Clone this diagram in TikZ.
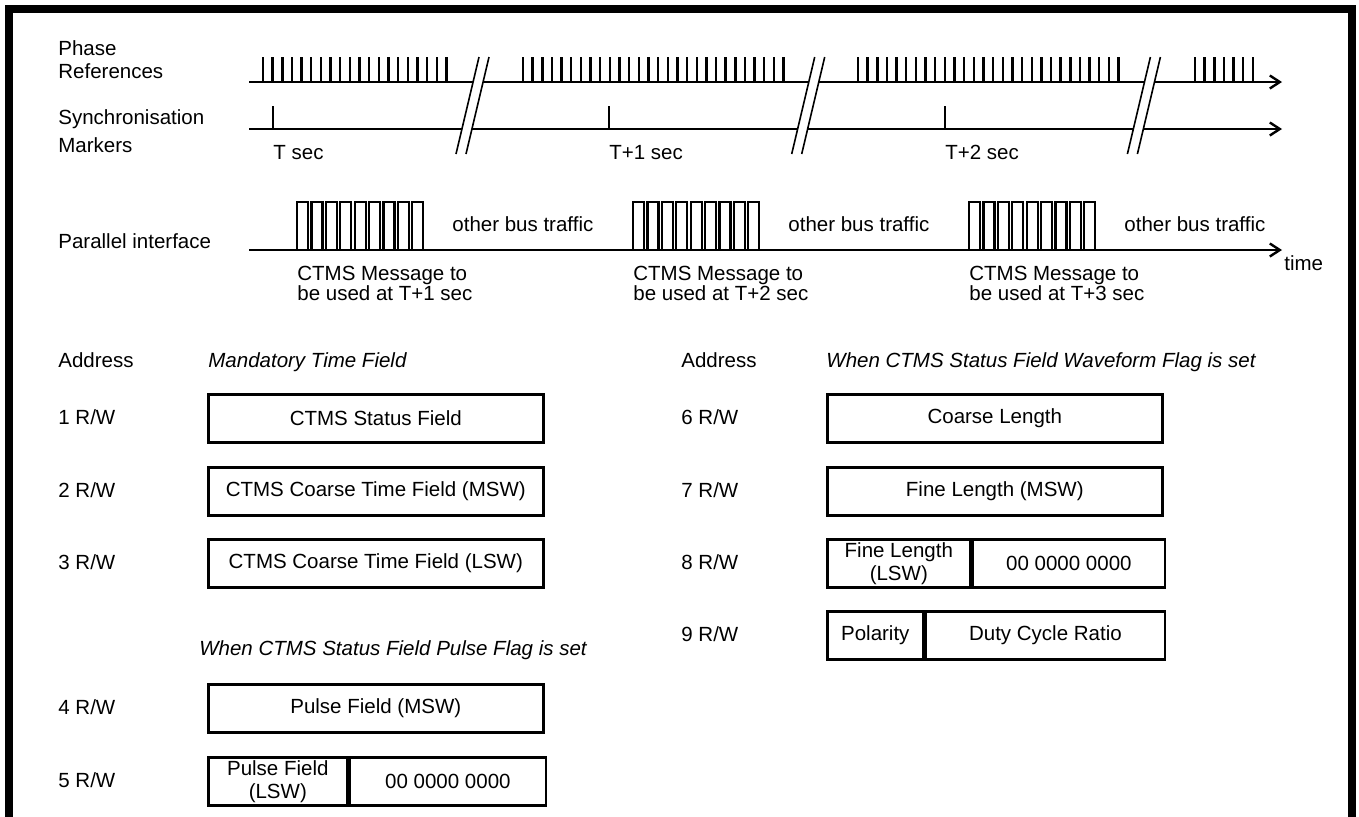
\documentclass[tikz,border=0pt]{standalone}
\usepackage{fontspec}
\setmainfont{Liberation Sans}
\usetikzlibrary{arrows.meta,positioning}

\begin{document}
\begin{tikzpicture}[x=0.5pt,y=-0.5pt,
  font=\fontsize{10.25}{11.5}\selectfont,
  lbl/.style={anchor=base west,inner sep=0pt},
  head/.style={lbl,font=\fontsize{10.25}{11.5}\selectfont\itshape},
  field/.style={draw,line width=1.3pt,minimum height=24pt,inner sep=0pt,
                align=center,anchor=north west},
  axis/.style={line width=1.2pt},
  arr/.style={axis,-{Straight Barb[length=5pt,width=6.5pt,line width=1.2pt]}},
  tick/.style={line width=1.2pt},
  pulse/.style={line width=1.1pt},
  brk/.style={line width=0.8pt}
]
  \useasboundingbox (0,0) rectangle (1359,816);
  \draw[line width=4pt,miter limit=4] (9,830) -- (9,9) -- (1352,9) -- (1352,830);

  % timing lines
  \node[lbl] (phA) at (58,55) {Phase};
  \node[lbl] (phB) at (58,78) {References};
  \node[lbl] (syA) at (58,124) {Synchronisation};
  \node[lbl] (syB) at (58,152) {Markers};
  \node[lbl] (par) at (58,248) {Parallel interface};

  \coordinate (ph0) at (249,82);  \coordinate (ph1) at (1282,82);
  \coordinate (sy0) at (249,129); \coordinate (sy1) at (1282,129);
  \coordinate (pa0) at (249,250); \coordinate (pa1) at (1282,250);
  \draw[arr] (ph0) -- (ph1);
  \draw[arr] (sy0) -- (sy1);
  \draw[arr] (pa0) -- (pa1);
  \node[lbl] (time) at (1284,270) {time};

  \foreach \s/\n in {263/20,523/28,858/28,1195/7}
    \foreach \i in {1,...,\n}
      \draw[tick] ({\s+(\i-1)*9.65},82) -- ++(0,-25);

  \foreach \t/\txt [count=\k] in {273/T sec,609/T+1 sec,945/T+2 sec}{
    \draw[tick] (\t,129) -- ++(0,-23);
    \node[lbl] (sec\k) at (\t,159) {\txt};
  }

  \foreach \bx in {456,791.7,1127.4}{
    \fill[white] (\bx,154) -- ++(23,-97) -- ++(10,0) -- ++(-23,97) -- cycle;
    \draw[brk] (\bx,154) -- ++(23,-97) (\bx+10,154) -- ++(23,-97);
  }

  \foreach \p/\m [count=\k] in {297/1,633/2,969/3}{
    \foreach \i in {0,...,8}
      \draw[pulse] ({\p+\i*14.4},250) -- ++(0,-48) -- ++(11,0) -- ++(0,48);
    \node[lbl] (bus\k) at (\p+155,231) {other bus traffic};
    \node[lbl] (msgA\k) at (\p,280) {CTMS Message to};
    \node[lbl] (msgB\k) at (\p,300) {be used at T+\m\ sec};
  }

  % register map, left
  \node[lbl] (adrL) at (58,367.5) {Address};
  \node[head] (mand) at (208,367.5) {Mandatory Time Field};
  \node[lbl] (a1) at (58,424.5) {1 R/W};
  \node[lbl] (a2) at (58,497.5) {2 R/W};
  \node[lbl] (a3) at (58,569.5) {3 R/W};
  \node[head,anchor=base] (puls) at (393,655) {When CTMS Status Field Pulse Flag is set};
  \node[lbl] (a4) at (58,714.5) {4 R/W};
  \node[lbl] (a5) at (58,787.5) {5 R/W};

  \node[field,minimum width=167.5pt] (f1) at (207,393) {CTMS Status Field};
  \node[field,minimum width=167.5pt] (f2) at (207,466) {CTMS Coarse Time Field (MSW)};
  \node[field,minimum width=167.5pt] (f3) at (207,538) {CTMS Coarse Time Field (LSW)};
  \node[field,minimum width=167.5pt] (f4) at (207,683) {Pulse Field (MSW)};
  \node[field,minimum width=69.5pt] (f5a) at (207,756) {Pulse Field\\(LSW)};
  \node[field,minimum width=98pt,right=0pt of f5a] (f5b) {00 0000 0000};

  % register map, right
  \node[lbl] (adrR) at (681,367.5) {Address};
  \node[head] (wave) at (826,367.5) {When CTMS Status Field Waveform Flag is set};
  \node[lbl] (a6) at (681,424.5) {6 R/W};
  \node[lbl] (a7) at (681,497.5) {7 R/W};
  \node[lbl] (a8) at (681,569.5) {8 R/W};
  \node[lbl] (a9) at (681,641.5) {9 R/W};

  \node[field,minimum width=167.5pt] (f6) at (826,393) {Coarse Length};
  \node[field,minimum width=167.5pt] (f7) at (826,466) {Fine Length (MSW)};
  \node[field,minimum width=71.5pt] (f8a) at (826,538) {Fine Length\\(LSW)};
  \node[field,minimum width=96pt,right=0pt of f8a] (f8b) {00 0000 0000};
  \node[field,minimum width=48pt] (f9a) at (826,610) {Polarity};
  \node[field,minimum width=119.5pt,right=0pt of f9a] (f9b) {Duty Cycle Ratio};
\end{tikzpicture}
\end{document}
